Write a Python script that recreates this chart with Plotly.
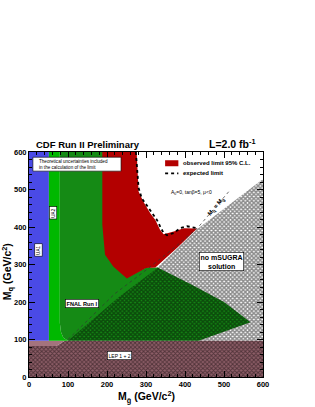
import plotly.graph_objects as go

# ---------------- data (GeV/c^2) ----------------
lep_x = [0, 600, 600, 92, 70, 0]
lep_y = [0, 0, 97, 97, 83, 83]

lepband_x = [0, 70, 92, 0]
lepband_y = [83, 83, 97, 97]

ua1_x = [0, 51, 51, 0]
ua1_y = [97, 97, 600, 600]

ua2_x = [51, 79, 79, 82, 88, 100, 51]
ua2_y = [600, 600, 145, 120, 105, 97, 97]

fnal_x = [79, 192, 192, 250, 300, 330, 420, 500, 568, 435, 100, 88, 82, 79]
fnal_y = [600, 600, 400, 265, 292, 292, 245, 200, 146, 97, 97, 105, 120, 145]

obs_x = [188, 276, 281, 293, 311, 324, 336, 345, 371, 397, 431, 380, 324, 300, 251, 216, 195, 188]
obs_y = [600, 600, 495, 468, 437, 419, 393, 381, 388, 397, 396, 345, 292, 291, 263, 295, 326, 406]

exp_x = [274, 281, 289, 298, 306, 319, 328, 336, 345, 354, 371, 388, 405, 431]
exp_y = [600, 504, 477, 464, 450, 432, 419, 402, 384, 378, 384, 397, 402, 397]

nosugra_x = [100, 229, 324, 431, 600, 600]
nosugra_y = [97, 212, 287, 394, 528, 97]

eq_x = [100, 220, 300, 375, 431, 512]
eq_y = [100, 222, 285, 347, 396, 494]

x_ticks = [0, 100, 200, 300, 400, 500, 600]
y_ticks = [0, 100, 200, 300, 400, 500, 600]

FONT = "Liberation Sans"

fig = go.Figure()

def poly(x, y, color, **kw):
    fig.add_trace(go.Scatter(x=x, y=y, fill="toself", fillcolor=color, mode="lines",
                             line=dict(width=0, color=color), hoverinfo="skip",
                             showlegend=False, **kw))

poly(lep_x, lep_y, "#8E5E68",
     fillpattern=dict(shape="x", fgcolor="#140a0c", bgcolor="#8E5E68", size=3, solidity=0.55))
poly(lepband_x, lepband_y, "#A4737D")
poly(ua1_x, ua1_y, "#4A4AE6")
poly(ua2_x, ua2_y, "#00B800")
poly(fnal_x, fnal_y, "#158A15")
poly(obs_x, obs_y, "#B30000")
poly(nosugra_x, nosugra_y, "rgba(0,0,0,0)",
     fillpattern=dict(shape="x", fgcolor="rgba(0,0,0,0.9)", bgcolor="rgba(0,0,0,0)",
                      size=3, solidity=0.75, fillmode="overlay"))

fig.add_trace(go.Scatter(x=eq_x, y=eq_y, mode="lines", line=dict(color="#333333", width=0.7, dash="dot"),
                         hoverinfo="skip", showlegend=False))
fig.add_trace(go.Scatter(x=exp_x, y=exp_y, mode="lines", line=dict(color="black", width=1.8, dash="dot"),
                         hoverinfo="skip", showlegend=False))

ann = []
def text(x, y, s, size, bold=False, box=False, angle=0, xanchor="center", xref="x", yref="y", align="center", color="black"):
    d = dict(x=x, y=y, xref=xref, yref=yref, text=s, showarrow=False, textangle=angle,
             xanchor=xanchor, yanchor="middle", align=align,
             font=dict(family=FONT, size=size, color=color, weight="bold" if bold else "normal"))
    if box:
        d.update(bgcolor="white", bordercolor="black", borderwidth=0.6, borderpad=1)
    ann.append(d)

# titles
text(0.02, 1.035, "CDF Run II Preliminary", 9.5, bold=True, xanchor="left", xref="paper", yref="paper")
text(0.98, 1.04, "L=2.0 fb<sup>-1</sup>", 10.5, bold=True, xanchor="right", xref="paper", yref="paper")

# theory box
fig.add_shape(type="rect", x0=10, x1=236, y0=549, y1=586, line=dict(color="black", width=0.6), fillcolor="white")
text(20, 567.5, "Theoretical uncertainties included<br>in the calculation of the limit", 4.6, xanchor="left", align="left")

text(23, 340, "UA1", 4.6, box=True, angle=-90)
text(62, 437, "UA2", 4.6, box=True, angle=-90)
text(137, 197, "FNAL Run I", 5.6, bold=True, box=True)
text(231, 57, "LEP 1 + 2", 5, box=True)
text(493, 309, "no mSUGRA<br>solution", 7, bold=True, box=True)

# legend
fig.add_shape(type="rect", x0=349, x1=383, y0=562, y1=578, line=dict(width=0), fillcolor="#B30000")
fig.add_shape(type="line", x0=349, x1=383, y0=543, y1=543, line=dict(color="black", width=1.8, dash="dot"))
text(390, 570, "observed limit 95% C.L.", 6, bold=True, xanchor="left")
text(390, 543, "expected limit", 6, bold=True, xanchor="left")
text(417, 491, "A<sub>0</sub>=0, tanβ=5, μ&lt;0", 5)
text(480, 455, "M<sub>q̃</sub> = M<sub>g̃</sub>", 6, bold=True, angle=-50)

# axis titles
text(0.5, -0.09, "M<sub>g̃</sub> (GeV/c<sup>2</sup>)", 10.5, bold=True, xref="paper", yref="paper")
text(-0.09, 0.47, "M<sub>q̃</sub> (GeV/c<sup>2</sup>)", 10.5, bold=True, angle=-90, xref="paper", yref="paper")

axis_common = dict(range=[0, 600], showgrid=False, zeroline=False, showline=True, linecolor="black",
                   linewidth=1, mirror="allticks", ticks="inside", ticklen=6, tickcolor="black",
                   tickfont=dict(family=FONT, size=7.5, color="black", weight="bold"),
                   minor=dict(dtick=20, ticks="inside", ticklen=3, tickcolor="black"))

fig.update_layout(
    width=315, height=407, margin=dict(l=29, r=52, t=152, b=30, autoexpand=False),
    paper_bgcolor="white", plot_bgcolor="white",
    xaxis=dict(tickvals=x_ticks, ticktext=[str(v) for v in x_ticks], automargin=False, **axis_common),
    yaxis=dict(tickvals=y_ticks, ticktext=[str(v) for v in y_ticks], automargin=False, **axis_common),
    annotations=ann, showlegend=False,
)

fig.write_html("out.html", config={"displayModeBar": False},
               post_script="document.body.style.margin='0';")
